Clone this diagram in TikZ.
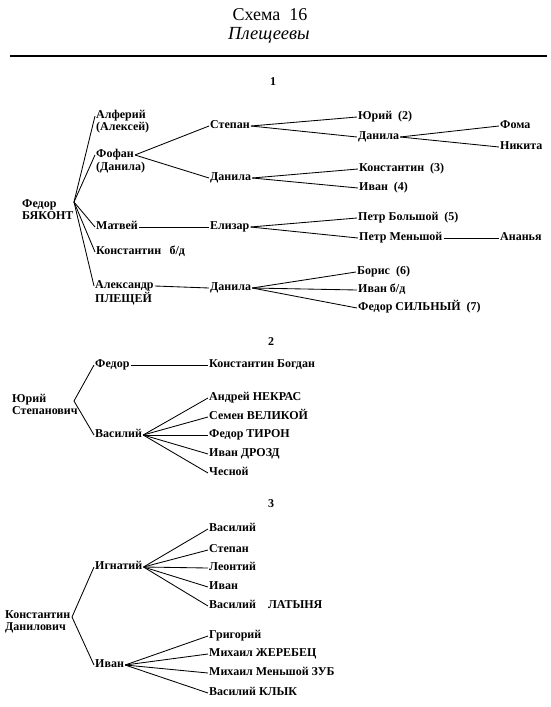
\documentclass[tikz,border=0pt]{standalone}
\usepackage{fontspec}
\setmainfont{Liberation Serif}
\begin{document}
\begin{tikzpicture}[x=1pt, y=-1pt,
  person/.style={anchor=west, inner sep=1pt, text height=1.55ex, text depth=0.35ex,
                 font=\bfseries\fontsize{12}{13}\selectfont},
  link/.style={line width=0.85pt},
  part/.style={font=\bfseries\fontsize{12}{13}\selectfont}]
    \useasboundingbox (0,0) rectangle (550,707);

    % Title
    \node (title) at (270,15) {\fontsize{18}{20}\selectfont Схема\ \ 16};
    \node (subtitle) at (269,35) {\fontsize{18.5}{20}\selectfont\itshape Плещеевы};
    \coordinate (r0) at (10,56);
    \coordinate (r1) at (547,56);
    \draw [line width=1.4pt] (r0) -- (r1);

    % Part 1
    \node [part] (p1) at (273,82) {1};
    \node [person] (fedor) at (21,205) {Федор};
    \node [person] (byakont) at (21,217) {БЯКОНТ};
    \coordinate (b1) at (74,202);

    \node [person] (alf) at (95,116) {Алферий};
    \node [person] (alf2) at (95,128) {(Алексей)};
    \node [person] (fofan) at (95,155) {Фофан};
    \node [person] (fofan2) at (95,168) {(Данила)};
    \node [person] (matvey) at (95,227) {Матвей};
    \node [person] (konst) at (95,252) {Константин\hspace{0.7em}б/д};
    \node [person] (alex) at (94,286) {Александр};
    \node [person] (plesh) at (94,300) {ПЛЕЩЕЙ};
    \foreach \c in {alf, fofan, matvey, konst, alex} {
        \draw [link] (b1) -- (\c.west);
    }

    \node [person] (stepan) at (209,126) {Степан};
    \node [person] (danila1) at (209,178) {Данила};
    \node [person] (elizar) at (209,227) {Елизар};
    \node [person] (danila2) at (209,288) {Данила};
    \draw [link] (fofan.east) -- (stepan.west);
    \draw [link] (fofan.east) -- (danila1.west);
    \draw [link] (matvey.east) -- (elizar.west);
    \draw [link] (alex.east) -- (danila2.west);

    \node [person] (yuri) at (357,117) {Юрий\ \ (2)};
    \node [person] (danila3) at (357,137) {Данила};
    \node [person] (konst3) at (358,169) {Константин\ \ (3)};
    \node [person] (ivan4) at (358,188) {Иван\ \ (4)};
    \node [person] (petrb) at (357,218) {Петр Большой\ \ (5)};
    \node [person] (petrm) at (358,238) {Петр Меньшой};
    \node [person] (boris) at (356,272) {Борис\ \ (6)};
    \node [person] (ivanbd) at (357,290) {Иван б/д};
    \node [person] (fedors) at (357,308) {Федор СИЛЬНЫЙ\ \ (7)};
    \foreach \c in {yuri, danila3} {
        \draw [link] (stepan.east) -- (\c.west);
    }
    \foreach \c in {konst3, ivan4} {
        \draw [link] (danila1.east) -- (\c.west);
    }
    \foreach \c in {petrb, petrm} {
        \draw [link] (elizar.east) -- (\c.west);
    }
    \foreach \c in {boris, ivanbd, fedors} {
        \draw [link] (danila2.east) -- (\c.west);
    }

    \node [person] (foma) at (499,126) {Фома};
    \node [person] (nikita) at (499,147) {Никита};
    \node [person] (ananya) at (499,238) {Ананья};
    \draw [link] (danila3.east) -- (foma.west);
    \draw [link] (danila3.east) -- (nikita.west);
    \draw [link] (petrm.east) -- (ananya.west);

    % Part 2
    \node [part] (p2) at (271,342) {2};
    \node [person] (ys1) at (11,400) {Юрий};
    \node [person] (ys2) at (11,412) {Степанович};
    \coordinate (b2) at (74,401);

    \node [person] (fedor2) at (94,365) {Федор};
    \node [person] (vas2) at (94,435) {Василий};
    \draw [link] (b2) -- (fedor2.west);
    \draw [link] (b2) -- (vas2.west);

    \node [person] (bogdan) at (208,365) {Константин Богдан};
    \draw [link] (fedor2.east) -- (bogdan.west);
    \foreach \i/\y/\t in {1/398/Андрей НЕКРАС, 2/417/Семен ВЕЛИКОЙ, 3/435/Федор ТИРОН,
                          4/454/Иван ДРОЗД, 5/473/Чесной} {
        \node [person] (v\i) at (208,\y) {\t};
        \draw [link] (vas2.east) -- (v\i.west);
    }

    % Part 3
    \node [part] (p3) at (271,504) {3};
    \node [person] (kd1) at (4,616) {Константин};
    \node [person] (kd2) at (4,628) {Данилович};
    \coordinate (b3) at (72,617);

    \node [person] (ignat) at (94,567) {Игнатий};
    \node [person] (ivan3) at (94,665) {Иван};
    \draw [link] (b3) -- (ignat.west);
    \draw [link] (b3) -- (ivan3.west);

    \foreach \i/\y/\t in {1/529/Василий, 2/550/Степан, 3/568/Леонтий, 4/587/Иван,
                          5/606/Василий\hspace{1em}ЛАТЫНЯ} {
        \node [person] (g\i) at (208,\y) {\t};
        \draw [link] (ignat.east) -- (g\i.west);
    }
    \foreach \i/\y/\t in {1/636/Григорий, 2/654/Михаил ЖЕРЕБЕЦ, 3/673/Михаил Меньшой ЗУБ,
                          4/693/Василий КЛЫК} {
        \node [person] (h\i) at (208,\y) {\t};
        \draw [link] (ivan3.east) -- (h\i.west);
    }
\end{tikzpicture}
\end{document}
